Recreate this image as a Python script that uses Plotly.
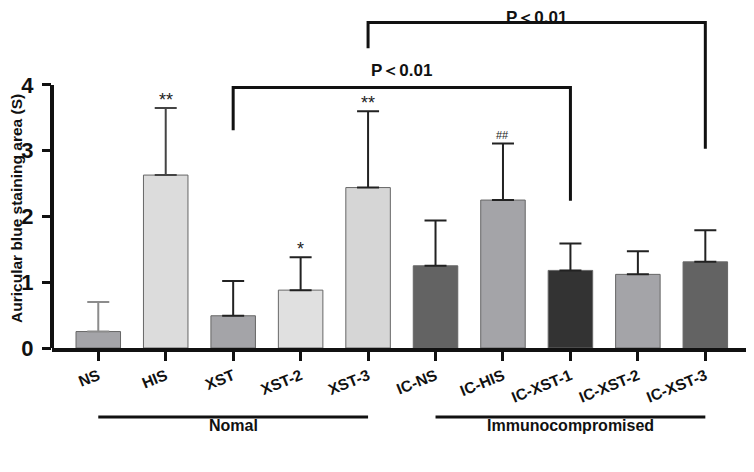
import plotly.graph_objects as go

groups = ["NS", "HIS", "XST", "XST-2", "XST-3",
          "IC-NS", "IC-HIS", "IC-XST-1", "IC-XST-2", "IC-XST-3"]
means = [0.25, 2.63, 0.49, 0.88, 2.44, 1.25, 2.25, 1.18, 1.12, 1.31]
sds = [0.45, 1.02, 0.53, 0.50, 1.16, 0.69, 0.86, 0.41, 0.35, 0.48]
marks = ["", "**", "", "*", "**", "", "##", "", "", ""]
bar_colors = ["#a4a4a8", "#dcdcdc", "#a4a4a8", "#e0e0e0", "#d6d6d6",
              "#636363", "#a4a4a8", "#333333", "#a4a4a8", "#636363"]
err_colors = ["#8c8c8c", "#444444", "#222222", "#222222", "#222222",
              "#222222", "#222222", "#222222", "#222222", "#222222"]

# brackets: (left group, right group, top y, left end y, right end y)
brackets = [("XST", "IC-XST-1", 3.96, 3.31, 2.24),
            ("XST-3", "IC-XST-3", 4.95, 4.56, 3.03)]
p_text = "P＜0.01"

sections = [("NS", "XST-3", "Nomal"), ("IC-NS", "IC-XST-3", "Immunocompromised")]

FONT = "Liberation Sans, Arial, sans-serif"

fig = go.Figure()
for g, m, s, c, ec in zip(groups, means, sds, bar_colors, err_colors):
    fig.add_trace(go.Bar(
        x=[g], y=[m], width=0.66, marker_color=c,
        marker_line=dict(color="#666666", width=1),
        error_y=dict(type="data", array=[s], symmetric=False, arrayminus=[0],
                     color=ec, thickness=2, width=11),
        showlegend=False))

for g, m, s, t in zip(groups, means, sds, marks):
    if t:
        star = t.startswith("*")
        fig.add_annotation(x=g, y=m + s, text=t, showarrow=False,
                           yanchor="bottom", yshift=-4 if star else 1,
                           font=dict(family=FONT, size=18 if star else 11,
                                     color="#222"))

for i, (a, b, top, ya, yb) in enumerate(brackets):
    ia, ib = groups.index(a), groups.index(b)
    fig.add_shape(type="path",
                  path=f"M {ia},{ya} L {ia},{top} L {ib},{top} L {ib},{yb}",
                  xref="x", yref="y", line=dict(color="#111", width=3))
    if i == 0:
        fig.add_annotation(x=(ia + ib) / 2, y=top, text=p_text, showarrow=False,
                           yanchor="bottom", yshift=6,
                           font=dict(family=FONT, size=17, color="#111", weight="bold"))
    else:
        fig.add_annotation(x=(ia + ib) / 2, y=1, yref="paper", text=p_text,
                           showarrow=False, yanchor="top", yshift=2,
                           font=dict(family=FONT, size=17, color="#111", weight="bold"))

for a, b, name in sections:
    fig.add_shape(type="line", x0=groups.index(a), x1=groups.index(b),
                  y0=-0.203, y1=-0.203, xref="x", yref="paper",
                  line=dict(color="#111", width=3))
    fig.add_annotation(x=(groups.index(a) + groups.index(b)) / 2, y=-0.259,
                       xref="x", yref="paper", text=name, showarrow=False,
                       font=dict(family=FONT, size=16, color="#111", weight="bold"))

# y axis line only up to 4
fig.add_shape(type="line", x0=0, x1=0, y0=0, y1=4, xref="paper", yref="y",
              line=dict(color="#111", width=4))

fig.add_annotation(x=-0.0504, y=0.409, xref="paper", yref="paper",
                   xanchor="center", yanchor="middle",
                   text="Auricular blue staining area (S)", textangle=-90,
                   showarrow=False,
                   font=dict(family=FONT, size=15.5, color="#111", weight="bold"))

fig.update_layout(
    width=738, height=456,
    margin=dict(l=44, r=0, t=0, b=116),
    plot_bgcolor="white", paper_bgcolor="white",
    barmode="overlay",
    xaxis=dict(type="category", range=[-0.686, 9.603], showline=True,
               linecolor="#111", linewidth=4, ticks="outside", ticklen=9,
               tickwidth=3, tickcolor="#111", tickangle=-22,
               ticklabelstandoff=0, showgrid=False,
               tickfont=dict(family=FONT, size=15.5, color="#111", weight="bold")),
    yaxis=dict(range=[0, 5.171], tickvals=[0, 1, 2, 3, 4], showline=False,
               ticks="outside", ticklen=9, tickwidth=3, tickcolor="#111",
               showgrid=False, zeroline=False, ticklabelstandoff=4,
               tickfont=dict(family=FONT, size=22, color="#111", weight="bold")),
)

fig.write_html("out.html")
